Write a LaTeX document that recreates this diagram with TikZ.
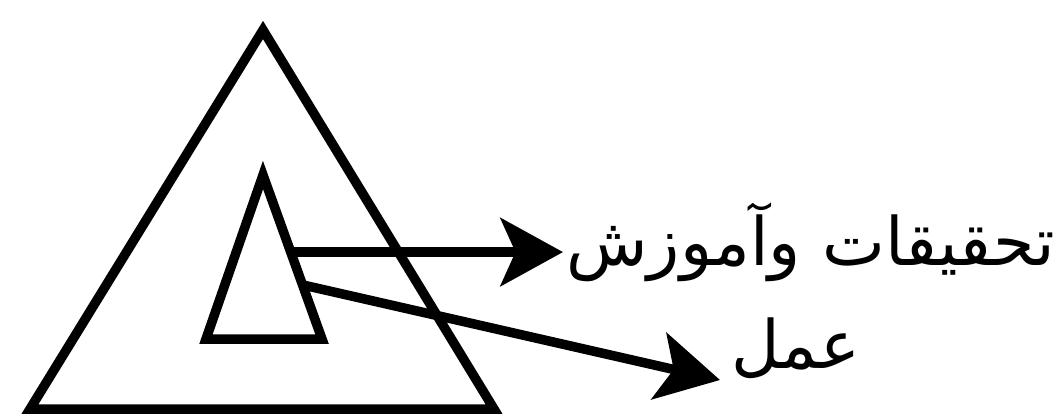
\documentclass[tikz,border=0pt]{standalone}
\usepackage{fontspec}
\newfontfamily\arabicfont[Script=Arabic]{DejaVu Sans}
\TeXXeTstate=1
\usetikzlibrary{arrows.meta,positioning,calc}

\begin{document}
\begin{tikzpicture}[x=0.02cm, y=-0.02cm,
    edge/.style={line width=0.19cm, line join=miter},
    pointer/.style={edge, -{Stealth[length=1.25cm, width=1.36cm, inset=0.3cm]}},
    farsi/.style={inner sep=0pt, anchor=west, font=\arabicfont\fontsize{38}{46}\selectfont}]
    \useasboundingbox (0,0) rectangle (1061,415);
    % Outer triangle
    \draw[edge] (263,30) -- (30,409) -- (494,409) -- cycle;
    % Inner triangle
    \coordinate (in-top) at (263,175);
    \coordinate (in-left) at (206,339);
    \coordinate (in-right) at (322,339);
    \draw[edge] (in-top) -- (in-left) -- (in-right) -- cycle;
    % Arrow start points on the inner triangle
    \coordinate (s1) at ($(in-top)!0.47!(in-right)$);
    \coordinate (s2) at ($(in-top)!0.67!(in-right)$);
    \coordinate (tip1) at (563,252);
    \coordinate (tip2) at (720,380);
    % Labels
    \node[farsi] (t1) at (566,242) {\beginR تحقیقات وآموزش\endR};
    \node[farsi] (t2) at (731,348) {\beginR عمل\endR};
    % Arrows
    \draw[pointer] (s1) -- (s1 -| tip1);
    \draw[pointer] (s2) -- (tip2);
\end{tikzpicture}
\end{document}
